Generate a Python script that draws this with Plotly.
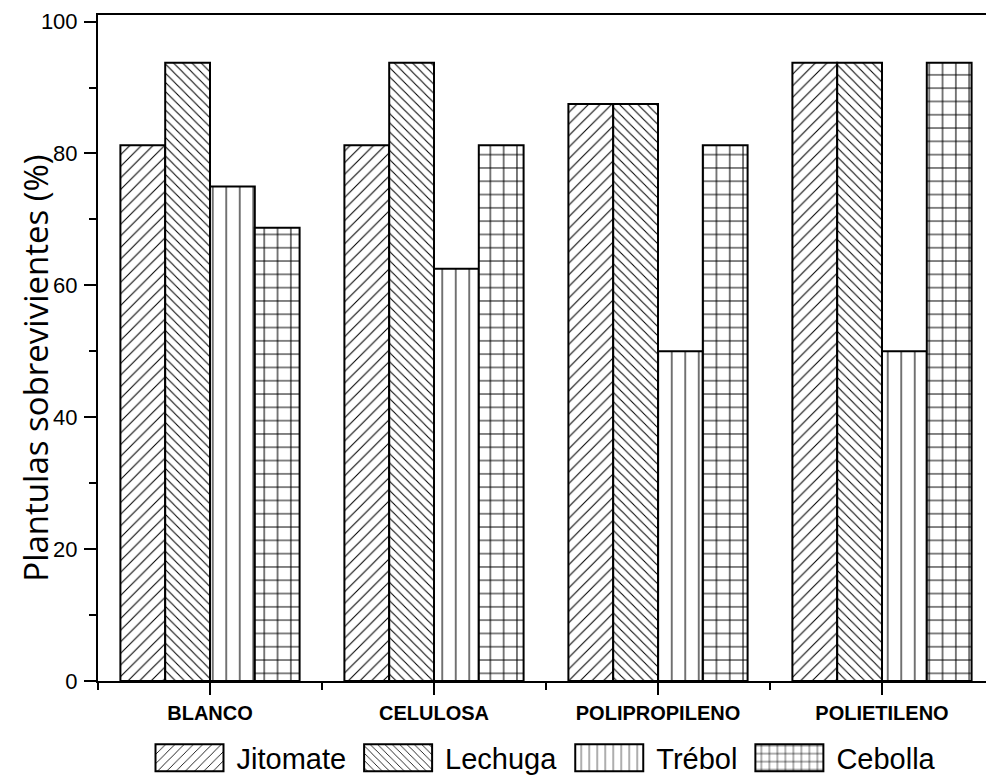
import plotly.graph_objects as go

categories = ["BLANCO", "CELULOSA", "POLIPROPILENO", "POLIETILENO"]
series_names = ["Jitomate", "Lechuga", "Trébol", "Cebolla"]
jitomate = [81.25, 81.25, 87.5, 93.75]
lechuga = [93.75, 93.75, 87.5, 93.75]
trebol = [75.0, 62.5, 50.0, 50.0]
cebolla = [68.75, 81.25, 81.25, 93.75]
y_tick_vals = [0, 20, 40, 60, 80, 100]
y_title = "Plantulas sobrevivientes (%)"

series_values = [jitomate, lechuga, trebol, cebolla]
shapes_pattern = ["/", "\\", "|", "+"]
pattern_sizes = [8.2, 6.5, 13.5, 13.3]
pattern_solidity = [0.13, 0.16, 0.08, 0.15]

x_pos = list(range(1, len(categories) + 1))

fig = go.Figure()
for name, vals, shp, sz, sol in zip(series_names, series_values, shapes_pattern,
                                    pattern_sizes, pattern_solidity):
    fig.add_trace(go.Bar(
        x=x_pos, y=vals, name=name,
        marker=dict(color="white",
                    line=dict(color="black", width=2),
                    pattern=dict(shape=shp, fgcolor="black", bgcolor="white",
                                 size=sz, solidity=sol, fillmode="replace")),
    ))

W, H = 986, 778
L, R, T, B = 98, 0, 15, 97
fig.update_layout(
    width=W, height=H,
    margin=dict(l=L, r=R, t=T, b=B, autoexpand=False),
    paper_bgcolor="white", plot_bgcolor="white",
    barmode="group", bargap=0.2, bargroupgap=0,
    font=dict(family="Liberation Sans, Arial, sans-serif", color="black"),
    showlegend=True,
    legend=dict(orientation="h", x=0.5, xanchor="center", y=-0.077, yanchor="top",
                font=dict(size=29, family="Liberation Sans, Arial, sans-serif"),
                itemwidth=84, traceorder="normal", bgcolor="rgba(0,0,0,0)",
                itemclick=False, itemdoubleclick=False),
)
fig.update_xaxes(
    range=[0.5, 0.5 + (W - L - R) / 224.0],
    tickmode="array", tickvals=x_pos,
    ticktext=["<b>%s</b>" % c for c in categories],
    tickfont=dict(size=20, family="Liberation Sans, Arial, sans-serif"),
    ticks="outside", ticklen=12, tickwidth=2, tickcolor="black",
    ticklabelstandoff=1,
    minor=dict(tickmode="array", tickvals=[0.5, 1.5, 2.5, 3.5, 4.5],
               ticks="outside", ticklen=7, tickwidth=2, tickcolor="black"),
    showline=True, linecolor="black", linewidth=2, mirror=True,
    showgrid=False, zeroline=False, fixedrange=True,
)
fig.update_yaxes(
    range=[0, 101],
    tickmode="array", tickvals=y_tick_vals,
    tickfont=dict(size=22, family="Liberation Sans, Arial, sans-serif"),
    ticks="outside", ticklen=12, tickwidth=2, tickcolor="black",
    ticklabelstandoff=2,
    minor=dict(tickmode="array", tickvals=[10, 30, 50, 70, 90],
               ticks="outside", ticklen=7, tickwidth=2, tickcolor="black"),
    showline=True, linecolor="black", linewidth=2,
    showgrid=False, zeroline=False, fixedrange=True,
)
fig.add_annotation(
    text=y_title, textangle=-90, showarrow=False,
    xref="paper", yref="paper", x=(36 - L) / (W - L - R), y=0.469,
    xanchor="center", yanchor="middle",
    font=dict(size=33, family="Open Sans, Noto Sans, sans-serif", color="black"),
)

post = """
var gd = document.getElementById('{plot_id}');
function fixLegend(){
  gd.querySelectorAll('.legend .legendpoints path').forEach(function(p){
    p.setAttribute('d','M34,13.5H-34V-13.5H34Z');
    p.style.strokeWidth = '2px';
  });
}
fixLegend();
gd.on('plotly_afterplot', fixLegend);
"""
fig.write_html("out.html", post_script=post, config={"displayModeBar": False})
